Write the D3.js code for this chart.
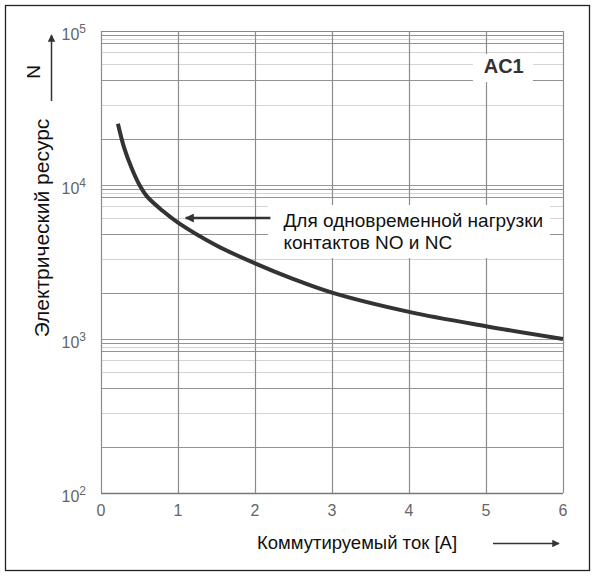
<!DOCTYPE html>
<html>
<head>
<meta charset="utf-8">
<script src="https://cdn.jsdelivr.net/npm/d3@7"></script>
<style>
  body { margin: 0; background: #fff; }
  text { font-family: "Liberation Sans", Arial, sans-serif; }
</style>
</head>
<body>
<div id="chart"></div>
<script>
// current [A] vs electrical life N (AC1)
let current = [0.22, 0.3, 0.4, 0.5, 0.6, 0.8, 1, 1.5, 2, 2.5, 3, 4, 5, 6];
let life    = [25000, 17500, 12800, 10000, 8400, 6800, 5700, 4050, 3100, 2450, 2000, 1500, 1210, 1000];

let xTicks = [0, 1, 2, 3, 4, 5, 6];
let decades = [2, 3, 4, 5];               // exponents of 10
// minor grid lines inside each decade
let gridDark  = [2, 4.8, 8.4, 9.4];
let gridLight = [3.3, 6.1, 7.3, 8.9];

let margin = {top: 31, right: 32, bottom: 83, left: 101},
    W = 595, H = 576,
    width = W - margin.left - margin.right,
    height = H - margin.top - margin.bottom;

let svg = d3.select("#chart")
    .append("svg")
    .attr("width", W)
    .attr("height", H);

let defs = svg.append("defs");
function head(id, w, h) {
    defs.append("marker")
        .attr("id", id)
        .attr("viewBox", "0 0 10 10")
        .attr("refX", 9).attr("refY", 5)
        .attr("markerWidth", w).attr("markerHeight", h)
        .attr("markerUnits", "strokeWidth")
        .attr("orient", "auto")
        .append("path")
        .attr("d", "M0,0L10,5L0,10z")
        .attr("fill", "#333");
}
head("head", 5.5, 3.6);
head("headSmall", 8, 5);

// outer frame
svg.append("rect")
    .attr("x", 5.5).attr("y", 5.5)
    .attr("width", W - 11).attr("height", H - 11)
    .attr("fill", "#fff")
    .attr("stroke", "#222")
    .attr("stroke-width", 1.3);

let g = svg.append("g")
    .attr("transform", "translate(" + margin.left + "," + margin.top + ")");

let x = d3.scaleLinear().domain([0, 6]).range([0, width]);
let y = d3.scaleLog().domain([100, 100000]).range([height, 0]);

// horizontal grid
let minor = [];
decades.slice(0, 3).forEach(function(e) {
    gridLight.forEach(function(m) { minor.push({v: m * Math.pow(10, e), c: "#d4d4d4"}); });
    gridDark.forEach(function(m) { minor.push({v: m * Math.pow(10, e), c: "#929292"}); });
});
decades.forEach(function(e) { minor.push({v: Math.pow(10, e), c: "#9a9a9a"}); });

g.append("g")
    .selectAll("line")
    .data(minor)
    .enter()
    .append("line")
    .attr("x1", 0).attr("x2", width)
    .attr("y1", d => Math.round(y(d.v)) + 0.5)
    .attr("y2", d => Math.round(y(d.v)) + 0.5)
    .attr("stroke", d => d.c)
    .attr("stroke-width", 1.1);

// vertical grid
g.append("g")
    .selectAll("line")
    .data(xTicks)
    .enter()
    .append("line")
    .attr("x1", d => Math.round(x(d)) + 0.5)
    .attr("x2", d => Math.round(x(d)) + 0.5)
    .attr("y1", 0).attr("y2", height)
    .attr("stroke", "#8c8c8c")
    .attr("stroke-width", 1.2);

// borders of the plot
g.append("line").attr("x1", 0).attr("x2", width).attr("y1", height + 0.5).attr("y2", height + 0.5)
    .attr("stroke", "#777").attr("stroke-width", 1.4);
g.append("line").attr("x1", 0).attr("x2", width).attr("y1", 0.5).attr("y2", 0.5)
    .attr("stroke", "#888").attr("stroke-width", 1.2);

// AC1 label
g.append("rect")
    .attr("x", x(4.83)).attr("y", y(60000) - 11)
    .attr("width", x(5.61) - x(4.83)).attr("height", 28)
    .attr("fill", "#fff");
g.append("text")
    .attr("x", x(5.23)).attr("y", y(60000) + 8)
    .attr("text-anchor", "middle")
    .attr("font-size", 20)
    .attr("font-weight", "bold")
    .attr("fill", "#333")
    .text("AC1");

// annotation box and text
g.append("rect")
    .attr("x", x(2.17)).attr("y", y(6100) - 13)
    .attr("width", x(5.83) - x(2.17)).attr("height", 53)
    .attr("fill", "#fff");
let note = g.append("text")
    .attr("font-size", 19)
    .attr("fill", "#111");
note.append("tspan").attr("x", x(2.37)).attr("y", y(6100) + 9).text("Для одновременной нагрузки");
note.append("tspan").attr("x", x(2.37)).attr("y", y(6100) + 31).text("контактов NO и NC");

// arrow to the curve
g.append("line")
    .attr("x1", x(2.2)).attr("x2", x(1.1))
    .attr("y1", y(6100)).attr("y2", y(6100))
    .attr("stroke", "#333")
    .attr("stroke-width", 2.5)
    .attr("marker-end", "url(#head)");

// the curve
let pts = current.map((c, i) => [c, life[i]]);
g.append("path")
    .datum(pts)
    .attr("fill", "none")
    .attr("stroke", "#333")
    .attr("stroke-width", 4)
    .attr("stroke-linecap", "butt")
    .attr("d", d3.line()
        .x(d => x(d[0]))
        .y(d => y(d[1]))
        .curve(d3.curveCatmullRom));

// x tick labels
g.append("g")
    .selectAll("text")
    .data(xTicks)
    .enter()
    .append("text")
    .attr("x", d => x(d))
    .attr("y", height + 23)
    .attr("text-anchor", "middle")
    .attr("font-size", 16)
    .attr("fill", "#666")
    .text(d => d);

// y tick labels 10^n
let yl = g.append("g")
    .selectAll("text")
    .data(decades)
    .enter()
    .append("text")
    .attr("x", -15)
    .attr("y", d => y(Math.pow(10, d)) + 9)
    .attr("text-anchor", "end")
    .attr("font-size", 16)
    .attr("fill", "#666");
yl.append("tspan").text("10");
yl.append("tspan").attr("font-size", 12).attr("dy", -7).text(d => d);

// axis titles
svg.append("text")
    .attr("transform", "translate(49,228) rotate(-90)")
    .attr("text-anchor", "middle")
    .attr("font-size", 21)
    .attr("fill", "#111")
    .text("Электрический ресурс");
svg.append("text")
    .attr("transform", "translate(40,72) rotate(-90)")
    .attr("text-anchor", "middle")
    .attr("font-size", 19)
    .attr("fill", "#111")
    .text("N");
svg.append("line")
    .attr("x1", 51.5).attr("x2", 51.5)
    .attr("y1", 101).attr("y2", 35)
    .attr("stroke", "#333")
    .attr("stroke-width", 1.5)
    .attr("marker-end", "url(#headSmall)");

svg.append("text")
    .attr("x", 357)
    .attr("y", 549)
    .attr("text-anchor", "middle")
    .attr("font-size", 18.5)
    .attr("fill", "#111")
    .text("Коммутируемый ток [А]");
svg.append("line")
    .attr("x1", 493).attr("x2", 559)
    .attr("y1", 543.5).attr("y2", 543.5)
    .attr("stroke", "#333")
    .attr("stroke-width", 1.5)
    .attr("marker-end", "url(#headSmall)");
</script>
</body>
</html>
